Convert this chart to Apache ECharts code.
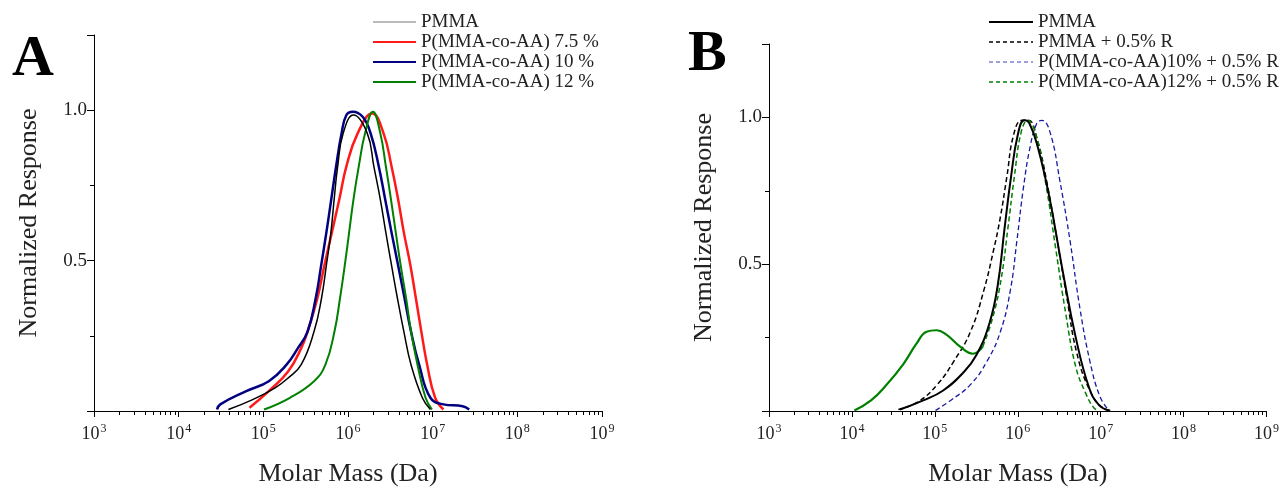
<!DOCTYPE html>
<html><head><meta charset="utf-8">
<script src="https://cdn.jsdelivr.net/npm/echarts@6/dist/echarts.min.js"></script>
<style>html,body{margin:0;padding:0;background:#fff}#c{width:1282px;height:492px}</style>
</head><body><div id="c"></div><script>
// ---------- Panel A data (molar mass in Da, normalized response) ----------
const pmmaA_M = [3.87e4,7.48e4,1.38e5,1.97e5,2.80e5,3.97e5,4.86e5,5.55e5,6.28e5,6.86e5,7.55e5,8.77e5,1.16e6,1.69e6,2.02e6,2.41e6,2.80e6,3.27e6,3.84e6,4.57e6,5.55e6,7.55e6,9.40e6];
const pmmaA_R = [0.005,0.038,0.077,0.11,0.154,0.264,0.374,0.484,0.593,0.703,0.813,0.923,0.984,0.923,0.813,0.703,0.593,0.484,0.374,0.264,0.154,0.044,0.005];
const aa75A_M = [6.86e4,1.16e5,1.97e5,2.80e5,3.33e5,4.34e5,5.26e5,6.44e5,7.89e5,9.57e5,1.30e6,1.93e6,2.63e6,3.27e6,3.91e6,4.57e6,5.46e6,6.34e6,7.35e6,8.61e6,1.07e7,1.34e7];
const aa75A_R = [0.011,0.066,0.132,0.209,0.264,0.374,0.484,0.593,0.703,0.813,0.923,0.989,0.923,0.813,0.703,0.593,0.484,0.374,0.264,0.154,0.044,0.005];
const aa10A_M = [2.84e4,3.10e4,6.28e4,1.16e5,1.88e5,2.56e5,3.33e5,4.15e5,4.82e5,5.55e5,6.34e5,7.23e5,8.40e5,9.57e5,1.14e6,1.49e6,1.85e6,2.31e6,2.75e6,3.27e6,3.91e6,4.66e6,5.55e6,6.92e6,9.40e6,1.34e7,2.26e7,2.70e7];
const aa10A_R = [0.005,0.022,0.066,0.099,0.154,0.209,0.264,0.374,0.484,0.593,0.703,0.813,0.923,0.984,0.995,0.978,0.923,0.813,0.703,0.593,0.484,0.374,0.264,0.154,0.044,0.022,0.016,0.005];
const aa12A_M = [1.02e5,2.06e5,3.97e5,5.41e5,6.92e5,8.04e5,9.16e5,1.03e6,1.16e6,1.34e6,1.59e6,1.97e6,2.41e6,2.80e6,3.22e6,3.67e6,4.19e6,4.86e6,5.55e6,6.62e6,8.24e6,9.82e6];
const aa12A_R = [0.005,0.044,0.099,0.154,0.264,0.374,0.484,0.593,0.703,0.813,0.923,0.995,0.923,0.813,0.703,0.593,0.484,0.374,0.264,0.154,0.044,0.005];

// ---------- Panel B data ----------
const pmmaB_M = [3.80e4,7.24e4,1.26e5,2.19e5,3.16e5,4.57e5,5.75e5,6.92e5,8.32e5,1.00e6,1.20e6,1.38e6,1.74e6,2.40e6,3.47e6,5.01e6,7.24e6,9.55e6,1.26e7];
const pmmaB_R = [0.005,0.036,0.07,0.13,0.19,0.30,0.43,0.62,0.80,0.94,0.99,0.98,0.90,0.73,0.48,0.25,0.08,0.02,0.002];
const pmmaRB_M = [3.63e4,6.17e4,1.07e5,1.70e5,2.69e5,3.89e5,5.13e5,6.17e5,7.41e5,8.91e5,1.12e6,1.35e6,1.70e6,2.24e6,2.95e6,3.89e6,5.13e6,7.41e6,1.07e7,1.41e7];
const pmmaRB_R = [0.005,0.03,0.09,0.17,0.27,0.41,0.55,0.66,0.80,0.94,0.99,0.99,0.93,0.78,0.59,0.39,0.20,0.07,0.01,0.002];
const aa10RB_M = [1.02e5,1.55e5,2.69e5,4.27e5,6.17e5,8.13e5,9.77e5,1.17e6,1.41e6,1.70e6,1.95e6,2.45e6,3.24e6,4.27e6,5.62e6,7.41e6,9.77e6,1.23e7];
const aa10RB_R = [0.002,0.036,0.09,0.17,0.27,0.41,0.58,0.76,0.90,0.98,0.99,0.95,0.78,0.58,0.35,0.17,0.05,0.005];
const aa12RBlow_M = [1.07e4,1.70e4,2.63e4,4.17e4,6.03e4,7.94e4,1.05e5,1.38e5,2.00e5,2.88e5,3.80e5];
const aa12RBlow_R = [0.002,0.036,0.09,0.16,0.23,0.27,0.275,0.26,0.22,0.195,0.22];
const aa12RB_M = [3.80e5,5.01e5,6.31e5,7.59e5,9.12e5,1.10e6,1.32e6,1.66e6,2.19e6,2.88e6,3.80e6,5.01e6,6.61e6,8.32e6,9.55e6];
const aa12RB_R = [0.22,0.32,0.45,0.62,0.80,0.95,0.99,0.94,0.77,0.55,0.33,0.15,0.06,0.01,0.002];

// ---------- Axis tick values ----------
const decadeTicks = [1e3,1e4,1e5,1e6,1e7,1e8,1e9];
const yLabels = {0.5:'0.5', 1:'1.0'};
const namesA = ['PMMA','P(MMA-co-AA) 7.5 %','P(MMA-co-AA) 10 %','P(MMA-co-AA) 12 %'];
const namesB = ['PMMA','PMMA + 0.5% R','P(MMA-co-AA)10% + 0.5% R','P(MMA-co-AA)12% + 0.5% R'];

const minorTicks = [];
for (let e = 3; e < 9; e++) for (let k = 2; k <= 9; k++) minorTicks.push(k * Math.pow(10, e));

const FONT = 'Liberation Serif';
const zip = (m, r) => m.map((v, i) => [v, r[i]]);

function xAxes(gridIndex) {
  return [{
    type: 'log', logBase: 10, min: 1e3, max: 1e9, gridIndex,
    name: 'Molar Mass (Da)', nameLocation: 'middle', nameGap: 50,
    nameTextStyle: {fontFamily: FONT, fontSize: 26, color: '#222'},
    axisLine: {lineStyle: {color: '#000', width: 1}},
    axisTick: {show: true, length: 6, customValues: decadeTicks, lineStyle: {color: '#000'}},
    axisLabel: {customValues: decadeTicks, margin: 12, color: '#222', fontFamily: FONT, fontSize: 18,
      formatter: v => '10{s|' + Math.round(Math.log10(v)) + '}',
      rich: {s: {fontFamily: FONT, fontSize: 12, color: '#222', verticalAlign: 'top', padding: [0, 0, 10, 1]}}},
    splitLine: {show: false}
  }, {
    type: 'log', logBase: 10, min: 1e3, max: 1e9, gridIndex, position: 'bottom',
    axisLine: {show: false},
    axisTick: {show: true, length: 4, customValues: minorTicks, lineStyle: {color: '#000'}},
    axisLabel: {show: false}, splitLine: {show: false}
  }];
}
function yAxis(gridIndex) {
  return {
    type: 'value', min: 0, max: 1.25, interval: 0.5, gridIndex,
    name: 'Normalized Response', nameLocation: 'middle', nameGap: 52,
    nameTextStyle: {fontFamily: FONT, fontSize: 26, color: '#222'},
    axisLine: {show: true, lineStyle: {color: '#000', width: 1}},
    axisTick: {show: true, length: 7, lineStyle: {color: '#000'}},
    minorTick: {show: true, splitNumber: 2, length: 4, lineStyle: {color: '#000'}},
    axisLabel: {color: '#222', fontFamily: FONT, fontSize: 19, margin: 7,
      formatter: v => yLabels[v] || ''},
    splitLine: {show: false}
  };
}
const ln = (name, m, r, xi, yi, color, width, type, z) => ({
  name, type: 'line', xAxisIndex: xi, yAxisIndex: yi, data: zip(m, r),
  symbol: 'none', smooth: 0.45, z: z || 2,
  lineStyle: {color, width, type: type || 'solid'}, itemStyle: {color}
});

const legendText = {fontFamily: FONT, fontSize: 19, color: '#222', lineHeight: 20};
const chart = echarts.init(document.getElementById('c'), null, {renderer: 'canvas'});
chart.setOption({
  animation: false,
  backgroundColor: '#fff',
  grid: [
    {left: 94, top: 35, width: 508, height: 378},
    {left: 769, top: 44, width: 498, height: 372}
  ],
  xAxis: [...xAxes(0), ...xAxes(1)],
  yAxis: [yAxis(0), yAxis(1)],
  legend: [
    {left: 372, top: 12, padding: 0, orient: 'vertical', itemWidth: 43, itemHeight: 12, itemGap: 0, itemStyle: {opacity: 0},
     textStyle: legendText, selectedMode: false,
     data: [{name: namesA[0], lineStyle: {color: '#777', width: 1}}, namesA[1], namesA[2], namesA[3]]},
    {left: 988, top: 12, padding: 0, orient: 'vertical', itemWidth: 44, itemHeight: 12, itemGap: 0, itemStyle: {opacity: 0},
     textStyle: legendText, selectedMode: false,
     data: [{name: namesB[0], lineStyle: {color: '#000', width: 2, type: 'solid'}},
            {name: namesB[1], lineStyle: {color: '#000', width: 1.5, type: [4, 3]}},
            {name: namesB[2], lineStyle: {color: '#4040c0', width: 1, type: [4, 3]}},
            {name: namesB[3], lineStyle: {color: '#008000', width: 1.5, type: [4, 3]}}]}
  ],
  graphic: [
    {type: 'text', left: 12, top: 31, style: {text: 'A', font: 'bold 58px "Liberation Serif"', fill: '#000'}},
    {type: 'text', left: 688, top: 26, style: {text: 'B', font: 'bold 58px "Liberation Serif"', fill: '#000'}}
  ],
  series: [
    ln(namesA[0], pmmaA_M, pmmaA_R, 0, 0, '#000', 1.5, 'solid', 3),
    ln(namesA[1], aa75A_M, aa75A_R, 0, 0, '#ff1a1a', 2.5),
    ln(namesA[2], aa10A_M, aa10A_R, 0, 0, '#000080', 2.5),
    ln(namesA[3], aa12A_M, aa12A_R, 0, 0, '#008000', 2),
    ln(namesB[1], pmmaRB_M, pmmaRB_R, 2, 1, '#000', 1.5, [5, 3]),
    ln(namesB[2], aa10RB_M, aa10RB_R, 2, 1, '#1a1aa0', 1.3, [5, 3]),
    ln(namesB[3], aa12RB_M, aa12RB_R, 2, 1, '#008000', 1.5, [5, 3]),
    ln(namesB[3], aa12RBlow_M, aa12RBlow_R, 2, 1, '#008000', 2.2, 'solid'),
    ln(namesB[0], pmmaB_M, pmmaB_R, 2, 1, '#000', 2, 'solid', 3)
  ]
});
</script></body></html>
